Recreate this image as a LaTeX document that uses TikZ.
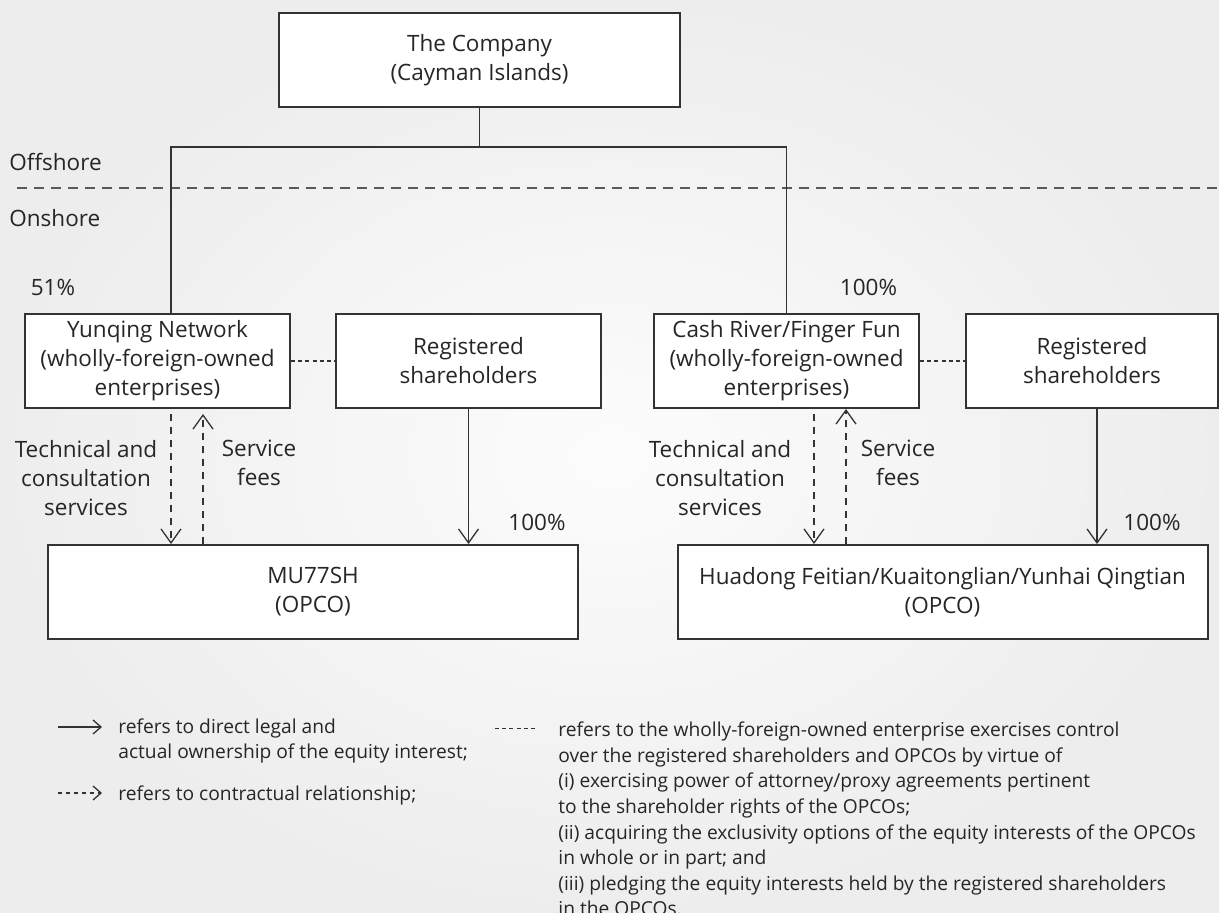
\documentclass[tikz,border=0pt]{standalone}
\usepackage{fontspec}
\setmainfont{Open Sans}
\usetikzlibrary{arrows.meta}

\begin{document}
\begin{tikzpicture}[
        x=0.5pt, y=-0.5pt,
        >={Straight Barb[length=7pt,width=10pt]},
        font=\fontsize{11.25}{14.5}\selectfont,
        text=black!85,
        % Kaesten
        entity/.style={draw=black!80, fill=white, line width=1pt, rectangle, minimum height=47pt, minimum width=132.5pt, inner sep=0pt, align=center},
        opco/.style={entity, minimum width=265pt},
        lbl/.style={inner sep=0pt, align=center},
        legend/.style={inner sep=0pt, align=left, font=\fontsize{9.6}{12.8}\selectfont},
        % Linien
        link/.style={draw=black!80, line width=0.65pt},
        own/.style={->, draw=black!80, line width=0.65pt},
        contract/.style={->, draw=black!80, line width=0.65pt, dash pattern=on 3.5pt off 3pt},
        control/.style={draw=black!80, line width=0.65pt, dash pattern=on 2pt off 1.6pt},
        border/.style={draw=black!65, line width=0.7pt, dash pattern=on 5pt off 3.5pt}
    ]

    % Hintergrund
    \shade[inner color=black!1, outer color=black!7] (0,0) rectangle (1219,913);
    \useasboundingbox (0,0) rectangle (1219,913);

    % ==========================================
    % Offshore
    % ==========================================
    \node[entity, minimum width=200.5pt, line width=1.2pt] (company) at (479.5,60) {The Company\\(Cayman Islands)};

    \node[lbl, anchor=west] (offshore) at (9,162) {Offshore};
    \node[lbl, anchor=west] (onshore)  at (9,218) {Onshore};
    \coordinate (borderL) at (17,188);
    \coordinate (borderR) at (1219,188);
    \draw[border] (borderL) -- (borderR);

    % ==========================================
    % Onshore
    % ==========================================
    \node[entity] (yunqing)   at (157.5,361) {Yunqing Network\\(wholly-foreign-owned\\enterprises)};
    \node[entity] (regA)      at (468.5,361) {Registered\\shareholders};
    \node[entity] (cashriver) at (786.5,361) {Cash River/Finger Fun\\(wholly-foreign-owned\\enterprises)};
    \node[entity, minimum width=126pt] (regB) at (1092,361) {Registered\\shareholders};

    \node[opco] (mu)      at (313,592)   {MU77SH\\(OPCO)};
    \node[opco] (huadong) at (942.5,592) {Huadong Feitian/Kuaitonglian/Yunhai Qingtian\\(OPCO)};

    % Anteile
    \node[lbl] (pctA) at (53,287)    {51\%};
    \node[lbl] (pctB) at (868.5,287) {100\%};
    \node[lbl] (pctC) at (537,522)   {100\%};
    \node[lbl] (pctD) at (1152,522)  {100\%};

    % Vertraege
    \node[lbl] (techA) at (86,478)  {Technical and\\consultation\\services};
    \node[lbl] (feeA)  at (259,463) {Service\\fees};
    \node[lbl] (techB) at (720,478) {Technical and\\consultation\\services};
    \node[lbl] (feeB)  at (898,463) {Service\\fees};

    % --- Beteiligungen ---
    \coordinate (split) at (479.5,147);
    \draw[link] (company.south) -- (split);
    \draw[link] ([xshift=6.75pt]yunqing.north) |- (split) -| (cashriver.north);

    \draw[own] (regA.south) -- (regA.south |- mu.north);
    \coordinate (shB) at ([xshift=2.5pt]regB.south);
    \draw[own] (shB) -- (shB |- huadong.north);

    % --- Kontrolle ---
    \draw[control] (yunqing.east) -- (regA.west);
    \draw[control] (cashriver.east) -- (regB.west);

    % --- Dienste und Gebuehren ---
    \coordinate (svcA) at ([xshift=6.75pt]yunqing.south);
    \coordinate (feeUpA) at ([xshift=22.75pt]yunqing.south);
    \draw[contract, shorten <=2.5pt] (svcA) -- (svcA |- mu.north);
    \draw[contract, shorten >=2.5pt] (feeUpA |- mu.north) -- (feeUpA);

    \coordinate (svcB) at ([xshift=13.75pt]cashriver.south);
    \coordinate (feeUpB) at ([xshift=29.75pt]cashriver.south);
    \draw[contract, shorten <=2.5pt] (svcB) -- (svcB |- huadong.north);
    \draw[contract] (feeUpB |- huadong.north) -- (feeUpB);

    % ==========================================
    % Legende
    % ==========================================
    \coordinate (keyOwnA) at (58,727);
    \coordinate (keyOwnB) at (102,727);
    \draw[own, >={Straight Barb[length=4pt,width=7pt]}] (keyOwnA) -- (keyOwnB);
    \node[legend, anchor=west] (keyOwn) at (118,741) {refers to direct legal and\\actual ownership of the equity interest;};

    \coordinate (keyConA) at (58,793);
    \coordinate (keyConB) at (102,793);
    \draw[own, dash pattern=on 2pt off 2pt, >={Straight Barb[length=4pt,width=7pt]}] (keyConA) -- (keyConB);
    \node[legend, anchor=west] (keyCon) at (118,795) {refers to contractual relationship;};

    \coordinate (keyCtlA) at (495,728);
    \coordinate (keyCtlB) at (535,728);
    \draw[control, line width=0.5pt] (keyCtlA) -- (keyCtlB);
    \node[legend, anchor=west] (keyCtl) at (558,819) {refers to the wholly-foreign-owned enterprise exercises control\\over the registered shareholders and OPCOs by virtue of\\(i) exercising power of attorney/proxy agreements pertinent\\to the shareholder rights of the OPCOs;\\(ii) acquiring the exclusivity options of the equity interests of the OPCOs\\in whole or in part; and\\(iii) pledging the equity interests held by the registered shareholders\\in the OPCOs.};

\end{tikzpicture}
\end{document}
